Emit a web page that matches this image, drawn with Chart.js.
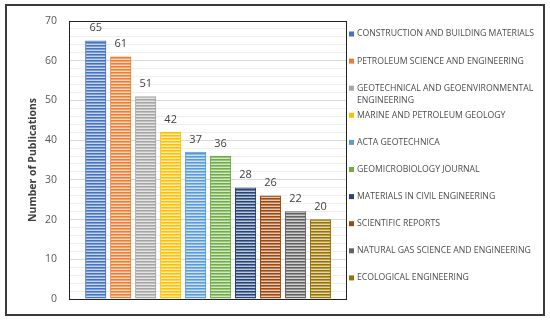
<!DOCTYPE html>
<html>
<head>
<meta charset="utf-8">
<script src="https://cdn.jsdelivr.net/npm/chart.js@4.4.1/dist/chart.umd.min.js"></script>
<style>
  html, body { margin: 0; padding: 0; background: #fff; }
  canvas { display: block; }
</style>
</head>
<body>
<canvas id="journalChart" width="550" height="320"></canvas>
<script>
// Journals and their publication counts
const journals = [
  'CONSTRUCTION AND BUILDING MATERIALS',
  'PETROLEUM SCIENCE AND ENGINEERING',
  'GEOTECHNICAL AND GEOENVIRONMENTAL ENGINEERING',
  'MARINE AND PETROLEUM GEOLOGY',
  'ACTA GEOTECHNICA',
  'GEOMICROBIOLOGY JOURNAL',
  'MATERIALS IN CIVIL ENGINEERING',
  'SCIENTIFIC REPORTS',
  'NATURAL GAS SCIENCE AND ENGINEERING',
  'ECOLOGICAL ENGINEERING'
];
const publications = [65, 61, 51, 42, 37, 36, 28, 26, 22, 20];
const barColors = [
  '#4472C4', '#ED7D31', '#A5A5A5', '#FFC000', '#5B9BD5',
  '#70AD47', '#264478', '#9E480E', '#636363', '#997300'
];

// lighten a hex colour towards white
function lighten(hex, t) {
  const n = parseInt(hex.slice(1), 16);
  const r = (n >> 16) & 255, g = (n >> 8) & 255, b = n & 255;
  const f = v => Math.round(v + (255 - v) * t);
  return `rgb(${f(r)}, ${f(g)}, ${f(b)})`;
}

// horizontal stripe fill like the Excel pattern
function stripes(hex) {
  const c = document.createElement('canvas');
  c.width = 4; c.height = 3;
  const g = c.getContext('2d');
  g.fillStyle = hex; g.fillRect(0, 0, 4, 1);
  g.fillStyle = lighten(hex, 0.3); g.fillRect(0, 1, 4, 1);
  g.fillStyle = lighten(hex, 0.7); g.fillRect(0, 2, 4, 1);
  return g.createPattern(c, 'repeat');
}

// white page with dark frame
const framePlugin = {
  id: 'frame',
  beforeDraw(chart) {
    const c = chart.ctx;
    c.save();
    c.fillStyle = '#fff';
    c.fillRect(0, 0, chart.width, chart.height);
    c.strokeStyle = '#3a3a3a';
    c.lineWidth = 2;
    c.strokeRect(6, 5, 538, 310);
    c.restore();
  }
};

// border round the plot area + value labels
const plotPlugin = {
  id: 'plotBits',
  afterDatasetsDraw(chart) {
    const c = chart.ctx;
    const a = chart.chartArea;
    c.save();
    c.strokeStyle = '#222';
    c.lineWidth = 1;
    c.strokeRect(Math.round(a.left) + 0.5, Math.round(a.top) + 0.5,
      Math.round(a.right - a.left) - 1, Math.round(a.bottom - a.top));
    c.fillStyle = '#404040';
    c.font = '11px "Open Sans"';
    c.textAlign = 'center';
    c.textBaseline = 'alphabetic';
    chart.getDatasetMeta(0).data.forEach((bar, i) => {
      c.fillText(publications[i], bar.x, bar.y - 9.5);
    });
    c.restore();
  }
};

// legend on the right, one entry per journal
const sideLegend = {
  id: 'sideLegend',
  afterDraw(chart) {
    const c = chart.ctx;
    c.save();
    c.font = '8.7px "Open Sans"';
    c.textBaseline = 'middle';
    const maxW = 184;
    journals.forEach((name, i) => {
      const y = 34 + i * 27.1;
      c.fillStyle = barColors[i];
      c.fillRect(349, y - 2.5, 5, 5);
      // simple word wrap
      const lines = [];
      let line = '';
      name.split(' ').forEach(w => {
        const test = line ? line + ' ' + w : w;
        if (c.measureText(test).width > maxW && line) { lines.push(line); line = w; }
        else line = test;
      });
      lines.push(line);
      c.fillStyle = '#4d4d4d';
      lines.forEach((l, k) => c.fillText(l, 357, y + k * 12.5));
    });
    c.restore();
  }
};

const ctx = document.getElementById('journalChart').getContext('2d');

const journalChart = new Chart(ctx, {
  type: 'bar',
  data: {
    labels: journals,
    datasets: [{
      label: 'Number of Publications',
      data: publications.map((v, i) => ({ x: i, y: v })),
      backgroundColor: barColors.map(stripes),
      borderColor: barColors,
      borderWidth: 1,
      borderSkipped: 'bottom',
      barThickness: 20.5
    }]
  },
  options: {
    responsive: false,
    animation: false,
    layout: { padding: { left: 0, right: 203, top: 21, bottom: 21 } },
    plugins: {
      legend: { display: false },
      tooltip: { enabled: false }
    },
    scales: {
      x: {
        type: 'linear',
        offset: false,
        min: -1.07,
        max: 10.06,
        display: false
      },
      y: {
        min: 0,
        max: 70,
        afterFit(scale) { scale.width = 69; },
        border: { display: false },
        grid: {
          drawTicks: false,
          color: c => (c.tick && c.tick.value % 10 === 0) ? '#d9d9d9' : '#eeeeee'
        },
        ticks: {
          stepSize: 2,
          autoSkip: false,
          maxTicksLimit: 100,
          padding: 12,
          color: '#595959',
          font: { family: 'Open Sans', size: 10.5 },
          callback: v => (v % 10 === 0 ? v : '')
        },
        title: {
          display: true,
          text: 'Number of Publications',
          color: '#404040',
          font: { family: 'Open Sans', size: 10.5, weight: 'bold' },
          padding: { top: 27, bottom: 0 }
        }
      }
    }
  },
  plugins: [framePlugin, plotPlugin, sideLegend]
});
</script>
</body>
</html>
